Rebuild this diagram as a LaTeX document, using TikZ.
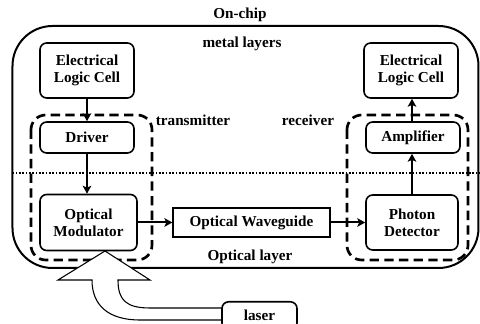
\documentclass[tikz,border=0pt]{standalone}
\usepackage{fontspec}
\setmainfont{Liberation Serif}
\usepackage{tikz}
\usetikzlibrary{calc, positioning, arrows.meta}

\begin{document}
\begin{tikzpicture}[x=0.75pt, y=-0.75pt, >={Stealth[length=6pt, width=6.5pt, inset=1.5pt]},
  font=\fontsize{11.4}{12.75}\selectfont\bfseries,
  every node/.style={align=center},
  cellbox/.style={draw, line width=1.2pt, rounded corners=5pt, inner sep=0pt, minimum width=70.5pt},
  guidebox/.style={draw, line width=1pt, inner sep=0pt},
  groupbox/.style={line width=2pt, dash pattern=on 7pt off 4pt, rounded corners=11pt},
  link/.style={line width=1.5pt, ->}]
  \useasboundingbox (0,0) rectangle (480,324);

  % chip outline and layer split
  \draw[line width=1.5pt, rounded corners=30pt] (12.5,26) rectangle (478.5,268);
  \draw[line width=1.2pt, dash pattern=on 1.2pt off 1.3pt] (12.5,173) -- (480,173);
  \draw[groupbox] (31,115) rectangle (152,260);
  \draw[groupbox] (347,115) rectangle (468,260);

  % light from the laser
  \draw[line width=0.8pt, fill=white] (105,251) -- (150,280) -- (118,280)
    .. controls (118,300) and (126,308) .. (150,308) -- (222,308) -- (222,320) -- (140,320)
    .. controls (108,320) and (92,305) .. (92,280) -- (58,280) -- cycle;

  \node at (240,15) {On-chip};
  \node at (242,44) {metal layers};
  \node at (193,120) {transmitter};
  \node at (308,120) {receiver};
  \node at (250,257) {Optical layer};

  % transmitter side
  \node[cellbox, minimum height=41.25pt] (elcL) at (87,70.5) {Electrical\\Logic Cell};
  \node[cellbox, minimum height=23.25pt] (drv) at (87,137.5) {Driver};
  \node[cellbox, minimum width=72.75pt, minimum height=42pt] (mod) at (88.5,222.5) {Optical\\Modulator};

  \node[guidebox, minimum width=117.75pt, minimum height=21.75pt] (wg) at (251.5,222.5) {Optical Waveguide};

  % receiver side
  \node[cellbox, minimum width=69pt, minimum height=41.25pt] (det) at (412,222.5) {Photon\\Detector};
  \node[cellbox, minimum height=23.25pt] (amp) at (413,137.5) {Amplifier};
  \node[cellbox, minimum height=41.25pt] (elcR) at (411,70.5) {Electrical\\Logic Cell};

  \node[draw, line width=1.2pt, rounded corners=5pt, minimum width=56.25pt, minimum height=21pt,
    anchor=north] (las) at (259.5,301) {laser};

  \draw[link] (elcL.south) -- (elcL.south |- drv.north);
  \draw[link] (drv.south) -- (drv.south |- mod.north);
  \draw[link] (mod.east) -- (wg.west);
  \draw[link] (wg.east) -- (det.west);
  \draw[link] (det.north) -- (det.north |- amp.south);
  \draw[link] (det.north |- amp.north) -- (det.north |- elcR.south);
\end{tikzpicture}
\end{document}
